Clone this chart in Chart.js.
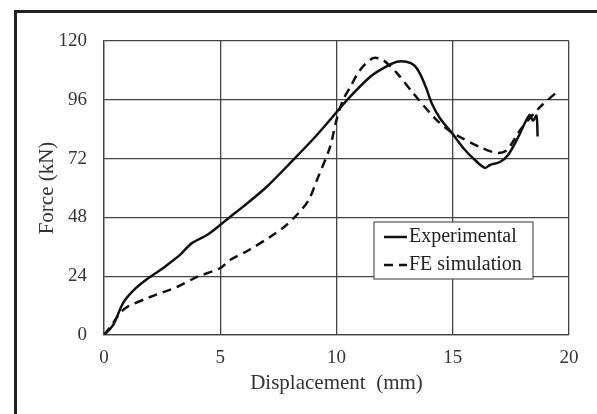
<!DOCTYPE html>
<html>
<head>
<meta charset="utf-8">
<script src="https://cdn.jsdelivr.net/npm/chart.js@4.4.0/dist/chart.umd.min.js"></script>
<style>
  body { margin: 0; background: #fff; }
  #wrap { position: relative; width: 597px; height: 414px; overflow: hidden; }
  #frame { position: absolute; left: 14px; top: 10px; width: 700px; height: 500px;
           border-left: 3px solid #222; border-top: 3px solid #222; pointer-events: none; }
  canvas { position: absolute; left: 0; top: 0; }
</style>
</head>
<body>
<div id="wrap">
  <canvas id="chart" width="597" height="414"></canvas>
  <div id="frame"></div>
</div>
<script>
// Experimental curve (displacement mm, force kN)
const expX = [0, 0.39, 0.82, 1.3, 1.98, 2.5, 2.84, 3.27, 3.78, 4.43, 5.0, 5.42, 6.0, 7.0, 8.13, 9.0, 9.72, 10.45, 11.44, 12.0, 12.6, 13.0, 13.35, 13.6, 13.85, 14.1, 14.45, 15.0, 15.5, 16.0, 16.39, 16.6, 17.03, 17.38, 17.8, 18.3, 18.45, 18.6, 18.65];
const expY = [0, 4, 13, 18.5, 23.7, 27, 29.5, 32.7, 37.5, 40.8, 44.9, 48.2, 52.5, 60.5, 71.4, 80, 87.8, 95.9, 105.3, 108.8, 111.5, 111.5, 110, 106.5, 101, 94.5, 88.5, 82, 75.8, 71, 68.2, 69.4, 70.6, 73.5, 80.5, 89.8, 87.5, 89.5, 81];

// FE simulation curve
const feX = [0, 0.4, 0.69, 0.99, 1.98, 3.14, 4.0, 5.0, 5.42, 6.2, 7.14, 7.8, 8.34, 8.8, 9.16, 9.72, 10.0, 10.28, 10.58, 11.0, 11.57, 12.0, 12.6, 13.29, 14.3, 15.0, 15.31, 16.17, 16.9, 17.33, 17.9, 18.75, 19.48];
const feY = [0, 5, 9, 11.4, 15.5, 19.6, 23.7, 27.3, 30.6, 34.5, 40, 44.5, 49.5, 55, 63.3, 76.7, 87.8, 95.9, 101, 108, 113, 112.2, 106.9, 98.8, 87.8, 82.4, 80.8, 76.7, 74.3, 75.5, 83.7, 93, 99.2];

const seriesNames = ['Experimental', 'FE simulation'];
const xTicks = [0, 5, 10, 15, 20];
const yTicks = [0, 24, 48, 72, 96, 120];

const serif = "'Liberation Serif', 'DejaVu Serif', serif";

function toPoints(xs, ys) {
    return xs.map((x, i) => ({ x: x, y: ys[i] }));
}

// legend drawn inside the plot area, like the original figure
const insideLegend = {
    id: 'insideLegend',
    afterDraw(chart) {
        const ctx = chart.ctx;
        const a = chart.chartArea;
        const bx = a.left + 270, by = a.top + 181, bw = 159, bh = 57;
        ctx.save();
        ctx.fillStyle = '#fff';
        ctx.fillRect(bx, by, bw, bh);
        ctx.strokeStyle = '#555';
        ctx.lineWidth = 1.2;
        ctx.strokeRect(bx, by, bw, bh);
        ctx.font = '20px ' + serif;
        ctx.fillStyle = '#222';
        ctx.textBaseline = 'middle';
        chart.data.datasets.forEach((ds, i) => {
            const y = by + 15 + i * 28;
            ctx.beginPath();
            ctx.strokeStyle = '#111';
            ctx.lineWidth = 2.5;
            ctx.setLineDash(ds.borderDash || []);
            ctx.moveTo(bx + 10, y);
            ctx.lineTo(bx + 33, y);
            ctx.stroke();
            ctx.setLineDash([]);
            ctx.fillText(ds.label, bx + 35, y);
        });
        ctx.restore();
    }
};

new Chart(document.getElementById('chart'), {
    type: 'scatter',
    data: {
        datasets: [
            {
                label: seriesNames[0],
                data: toPoints(expX, expY),
                showLine: true,
                borderColor: '#111',
                borderWidth: 2.5,
                pointRadius: 0,
                tension: 0.3
            },
            {
                label: seriesNames[1],
                data: toPoints(feX, feY),
                showLine: true,
                borderColor: '#111',
                borderWidth: 2.5,
                borderDash: [9, 6],
                pointRadius: 0,
                tension: 0.3
            }
        ]
    },
    options: {
        responsive: false,
        animation: false,
        layout: { padding: { top: 41, right: 28, bottom: 14, left: 31 } },
        plugins: {
            legend: { display: false },
            tooltip: { enabled: false }
        },
        scales: {
            x: {
                type: 'linear',
                min: 0,
                max: 20,
                afterBuildTicks(scale) { scale.ticks = xTicks.map(v => ({ value: v })); },
                afterFit(scale) { scale.height = 65; },
                grid: { color: '#444', lineWidth: 1.3, drawTicks: false },
                border: { color: '#444', width: 1.3 },
                ticks: { color: '#333', padding: 12, font: { family: serif, size: 19 } },
                title: {
                    display: true,
                    text: 'Displacement  (mm)',
                    color: '#333',
                    padding: { top: 4 },
                    font: { family: serif, size: 21 }
                }
            },
            y: {
                min: 0,
                max: 120,
                afterBuildTicks(scale) { scale.ticks = yTicks.map(v => ({ value: v })); },
                afterFit(scale) { scale.width = 73; },
                grid: { color: '#444', lineWidth: 1.3, drawTicks: false },
                border: { color: '#444', width: 1.3 },
                ticks: { color: '#333', padding: 17, font: { family: serif, size: 19 } },
                title: {
                    display: true,
                    text: 'Force (kN)',
                    color: '#333',
                    padding: { bottom: 2 },
                    font: { family: serif, size: 21 }
                }
            }
        }
    },
    plugins: [insideLegend]
});
</script>
</body>
</html>
